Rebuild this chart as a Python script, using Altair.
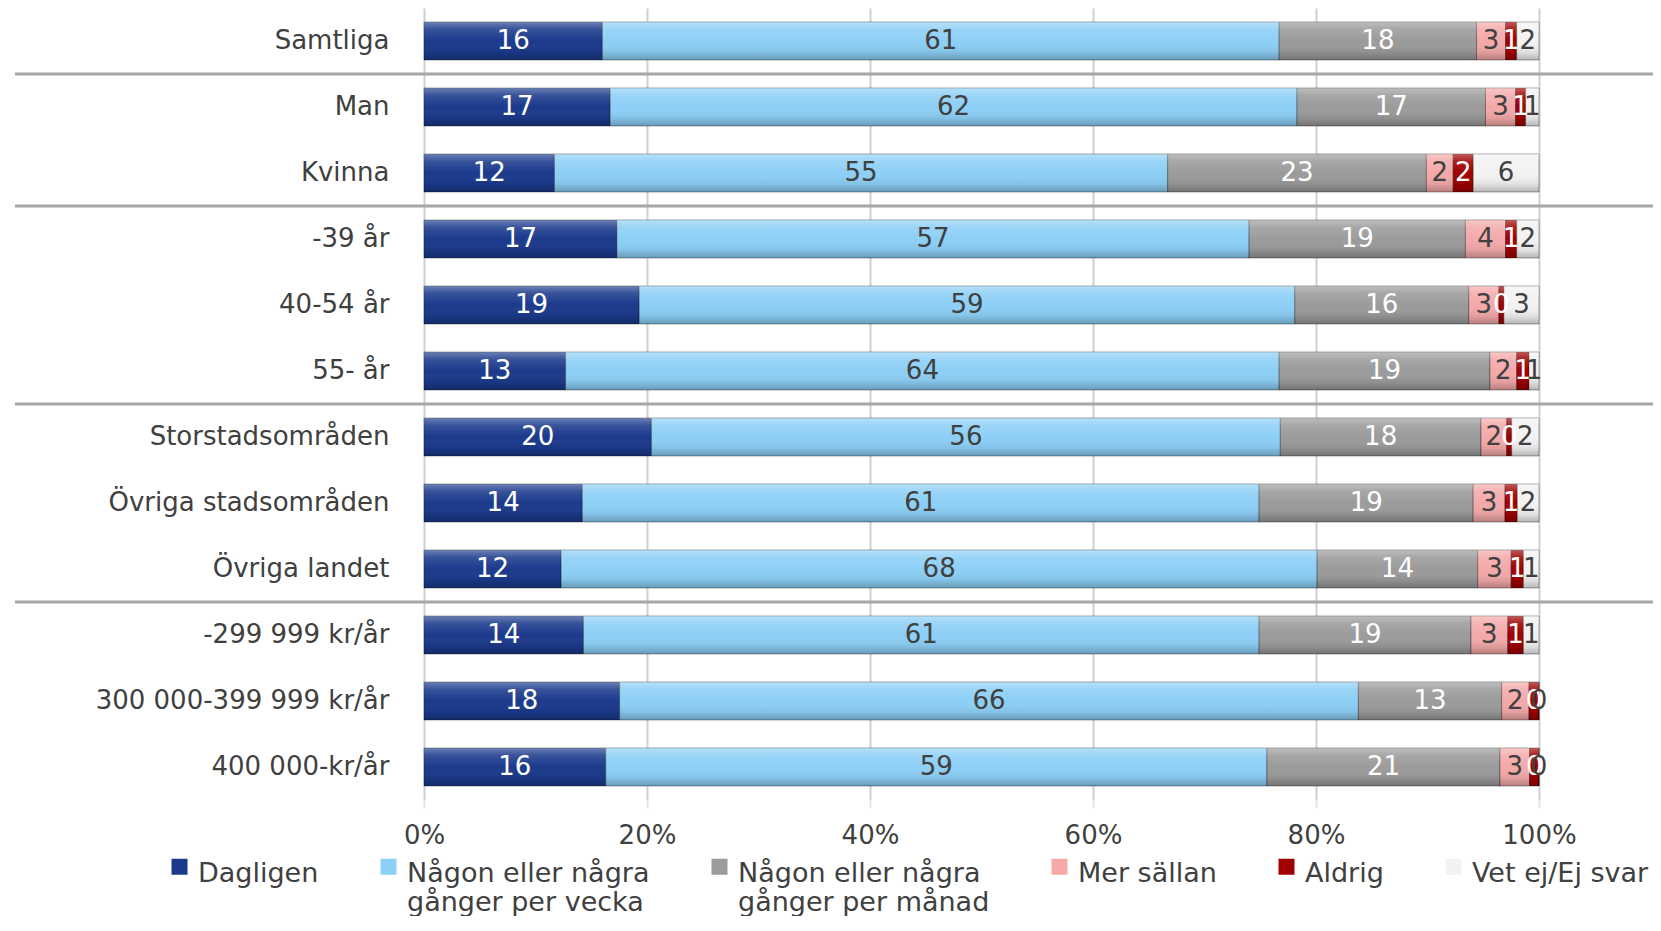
import altair as alt
import pandas as pd

categories = ["Samtliga", "Man", "Kvinna", "-39 år", "40-54 år", "55- år",
              "Storstadsområden", "Övriga stadsområden", "Övriga landet",
              "-299 999 kr/år", "300 000-399 999 kr/år", "400 000-kr/år"]

series = ["Dagligen", "Någon eller några gånger per vecka",
          "Någon eller några gånger per månad", "Mer sällan", "Aldrig",
          "Vet ej/Ej svar"]

# bar widths (percent)
dagligen = [16.0, 16.7, 11.7, 17.3, 19.3, 12.7, 20.4, 14.2, 12.3, 14.3, 17.55, 16.3]
vecka    = [60.7, 61.6, 55.0, 56.7, 58.8, 64.0, 56.4, 60.7, 67.8, 60.6, 66.25, 59.3]
manad    = [17.7, 16.9, 23.2, 19.4, 15.6, 18.9, 18.0, 19.2, 14.4, 19.0, 12.85, 20.9]
sallan   = [2.6, 2.7, 2.4, 3.6, 2.7, 2.4, 2.3, 2.85, 3.0, 3.3, 2.45, 2.65]
aldrig   = [1.0, 0.9, 1.8, 1.0, 0.45, 1.1, 0.45, 1.1, 1.1, 1.4, 0.9, 0.85]
vetej    = [2.0, 1.2, 5.9, 2.0, 3.15, 0.9, 2.45, 1.95, 1.4, 1.4, 0.0, 0.0]

# printed data labels
lab_dagligen = [16, 17, 12, 17, 19, 13, 20, 14, 12, 14, 18, 16]
lab_vecka    = [61, 62, 55, 57, 59, 64, 56, 61, 68, 61, 66, 59]
lab_manad    = [18, 17, 23, 19, 16, 19, 18, 19, 14, 19, 13, 21]
lab_sallan   = [3, 3, 2, 4, 3, 2, 2, 3, 3, 3, 2, 3]
lab_aldrig   = [1, 1, 2, 1, 0, 1, 0, 1, 1, 1, 0, 0]
lab_vetej    = [2, 1, 6, 2, 3, 1, 2, 2, 1, 1, 0, 0]

tick_values = [0, 20, 40, 60, 80, 100]
separators_before = ["Man", "-39 år", "Storstadsområden", "-299 999 kr/år"]

bar_colors = ["#1b3a8c", "#8dcff6", "#9b9b9b", "#f4a9a9", "#a00000", "#f2f2f2"]
label_colors = ["#ffffff", "#404040", "#ffffff", "#404040", "#ffffff", "#404040"]

vals = [dagligen, vecka, manad, sallan, aldrig, vetej]
labs = [lab_dagligen, lab_vecka, lab_manad, lab_sallan, lab_aldrig, lab_vetej]
rows = []
for si, s in enumerate(series):
    for ci, c in enumerate(categories):
        rows.append({"cat": c, "series": s, "order": si,
                     "value": vals[si][ci], "label": str(labs[si][ci])})
df = pd.DataFrame(rows)
sep_df = pd.DataFrame({"cat": separators_before})

FONT = "DejaVu Sans"

base = alt.Chart(df).transform_stack(
    stack="value", groupby=["cat"], as_=["x0", "x1"],
    sort=[alt.SortField("order", order="ascending")]
).transform_calculate(mid="(datum.x0 + datum.x1) / 2")

y_enc = alt.Y("cat:N", sort=categories, title=None,
              axis=alt.Axis(domain=False, ticks=False, labelFontSize=26,
                            labelFont=FONT, labelColor="#404040",
                            labelPadding=35, labelLimit=400))

x_scale = alt.Scale(domain=[0, 100], nice=False, zero=True)

legend_label_expr = (
    "indexof(datum.label,' gånger')>0 ? "
    "[substring(datum.label,0,indexof(datum.label,' gånger')), "
    "substring(datum.label,indexof(datum.label,' gånger')+1)] : [datum.label, ' ']"
)

bars = base.mark_bar(size=38, stroke="rgba(0,0,0,0.35)", strokeWidth=1).encode(
    x=alt.X("x0:Q", scale=x_scale, title=None,
            axis=alt.Axis(values=tick_values, labelExpr="datum.value + '%'",
                          domain=False, ticks=True, tickColor="#e6e6e6",
                          tickSize=8, tickWidth=2, labelFlush=False,
                          grid=True, gridColor="#d0d0d0", gridWidth=2,
                          labelFontSize=26, labelFont=FONT,
                          labelColor="#404040", labelPadding=14)),
    x2="x1:Q",
    y=y_enc,
    color=alt.Color("series:N", scale=alt.Scale(domain=series, range=bar_colors),
                    legend=alt.Legend(
                        title=None, orient="none", direction="horizontal",
                        legendX=-258, legendY=852,
                        symbolType="M-1,-1.875L1,-1.875L1,0.125L-1,0.125Z",
                        symbolSize=256,
                        symbolStrokeWidth=0,
                        labelFontSize=27, labelFont=FONT, labelColor="#404040",
                        labelBaseline="middle",
                        labelLimit=500, labelOffset=5, columnPadding=56,
                        labelExpr=legend_label_expr)),
)

shine = base.mark_bar(size=38, color=alt.LinearGradient(
    gradient="linear", x1=0, x2=0, y1=0, y2=1,
    stops=[alt.GradientStop(color="rgba(255,255,255,0.35)", offset=0),
           alt.GradientStop(color="rgba(255,255,255,0.12)", offset=0.2),
           alt.GradientStop(color="rgba(255,255,255,0.0)", offset=0.5),
           alt.GradientStop(color="rgba(0,0,0,0.08)", offset=0.8),
           alt.GradientStop(color="rgba(0,0,0,0.25)", offset=1)])).encode(
    x="x0:Q", x2="x1:Q", y=alt.Y("cat:N", sort=categories))

texts = base.mark_text(fontSize=26, font=FONT, baseline="middle",
                       align="center").encode(
    x="mid:Q",
    y=alt.Y("cat:N", sort=categories),
    text="label:N",
    color=alt.Color("series:N", scale=alt.Scale(domain=series, range=label_colors),
                    legend=None),
)

seps = alt.Chart(sep_df).mark_rule(color="#a6a6a6", strokeWidth=3).encode(
    y=alt.Y("cat:N", sort=categories),
    yOffset=alt.value(-3.3),
    x=alt.value(-409), x2=alt.value(1237),
)

chart = alt.layer(bars, shine, texts, seps).resolve_scale(
    color="independent"
).properties(
    width=1115, height=792,
    autosize=alt.AutoSizeParams(type="none"),
    padding={"left": 416, "top": 0, "right": 114, "bottom": 116},
).configure_view(stroke=None)

chart.save("out.html", embed_options={"renderer": "svg", "actions": False})
